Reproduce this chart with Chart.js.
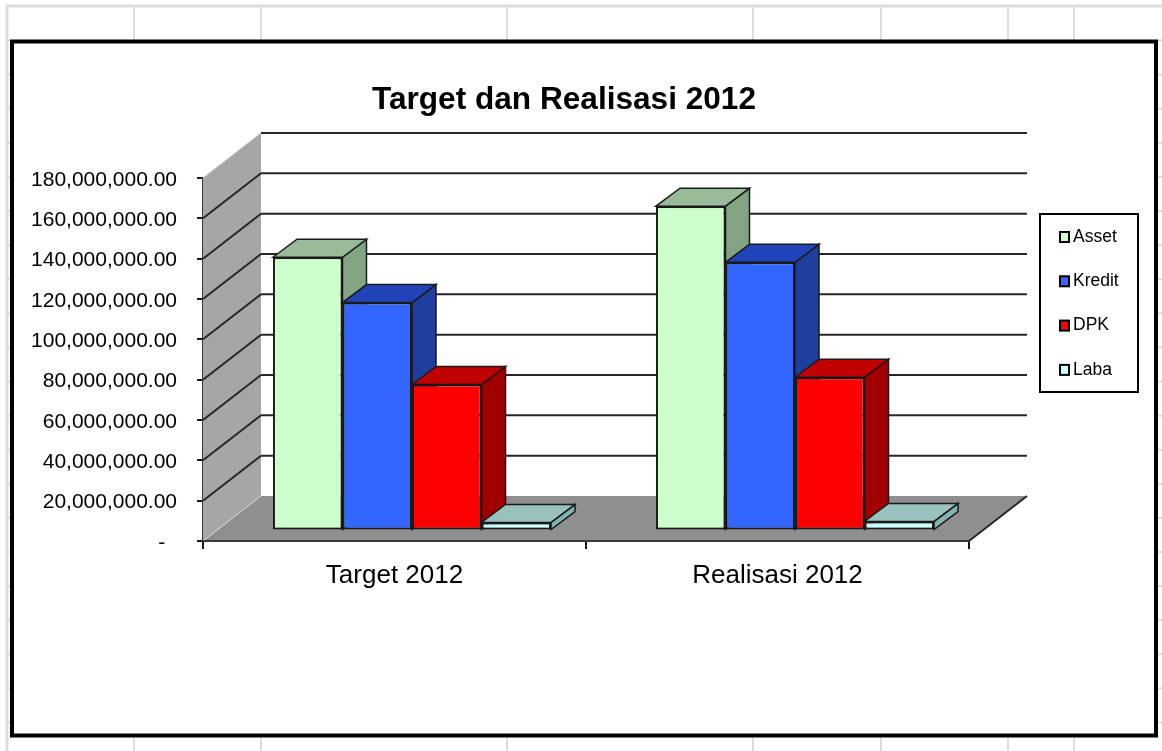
<!DOCTYPE html>
<html>
<head>
<meta charset="utf-8">
<title>Target dan Realisasi 2012</title>
<script src="https://cdn.jsdelivr.net/npm/chart.js@4"></script>
<style>
body { margin: 0; background: #fff; overflow: hidden; }
canvas { display: block; filter: blur(0.4px); }
</style>
</head>
<body>
<canvas id="chart" width="1162" height="751"></canvas>
<script>
const categories = ['Target 2012', 'Realisasi 2012'];
const seriesNames = ['Asset', 'Kredit', 'DPK', 'Laba'];
const asset = [135500000, 160800000];
const kredit = [113000000, 133000000];
const dpk = [72400000, 76000000];
const laba = [4000000, 4500000];
const seriesValues = [asset, kredit, dpk, laba];

const fronts = ['#ccffcc', '#3366ff', '#ff0000', '#ccffff'];
const tops = ['#99bb99', '#2244bb', '#c00000', '#99c2bf'];
const sides = ['#82a482', '#1f3f9f', '#a00000', '#82b4b4'];
const font = 'Liberation Sans, Arial, sans-serif';

// depth of the 3D box and of the bars inside it
const wallDx = 58, wallDy = -45;
const barShiftX = 17.5, barShiftY = -10.5;
const barDx = 24, barDy = -18;

function poly(ctx, pts, fill, stroke, lw) {
    ctx.beginPath();
    pts.forEach((p, i) => i ? ctx.lineTo(p[0], p[1]) : ctx.moveTo(p[0], p[1]));
    ctx.closePath();
    if (fill) {
        ctx.fillStyle = fill;
        ctx.fill();
    }
    if (stroke) {
        ctx.strokeStyle = stroke;
        ctx.lineWidth = lw;
        ctx.stroke();
    }
}

function line(ctx, x1, y1, x2, y2, color, lw) {
    ctx.beginPath();
    ctx.moveTo(x1, y1);
    ctx.lineTo(x2, y2);
    ctx.strokeStyle = color;
    ctx.lineWidth = lw;
    ctx.stroke();
}

const sheetPlugin = {
    id: 'sheet',
    afterLayout(chart) {
        // value labels sit a little lower than the library's middle baseline
        const y = chart.scales.y;
        const drawLabels = y.drawLabels.bind(y);
        y.drawLabels = area => {
            chart.ctx.save();
            chart.ctx.translate(0, 2);
            drawLabels(area);
            chart.ctx.restore();
        };
    },
    // spreadsheet cells behind the chart, frame, title and legend
    beforeDraw(chart) {
        const ctx = chart.ctx;
        const grey = '#dddddd';
        ctx.save();
        ctx.fillStyle = '#fff';
        ctx.fillRect(0, 0, 1162, 751);
        line(ctx, 6, 6, 1162, 6, grey, 3);
        line(ctx, 7, 6, 7, 751, grey, 3);
        [134, 261, 507, 753, 881, 1008, 1074].forEach(x => {
            line(ctx, x, 6, x, 42, grey, 2);
            line(ctx, x, 736, x, 751, grey, 2);
        });
        for (let y = 40.5; y < 745; y += 34.1) {
            line(ctx, 7, y, 12, y, grey, 2);
            line(ctx, 1156, y, 1162, y, grey, 2);
        }
        ctx.fillStyle = '#fff';
        ctx.fillRect(12, 41.5, 1144, 694);
        ctx.strokeStyle = '#000';
        ctx.lineWidth = 4;
        ctx.strokeRect(12, 41.5, 1144, 694);

        ctx.fillStyle = '#000';
        ctx.font = 'bold 31.6px ' + font;
        ctx.textAlign = 'center';
        ctx.textBaseline = 'middle';
        ctx.fillText('Target dan Realisasi 2012', 564, 100);

        ctx.strokeStyle = '#000';
        ctx.lineWidth = 2;
        ctx.strokeRect(1040, 214, 98, 178);
        ctx.font = '17.5px ' + font;
        ctx.textAlign = 'left';
        seriesNames.forEach((name, i) => {
            const y = 237 + i * 44.3;
            ctx.fillStyle = fronts[i];
            ctx.fillRect(1060, y - 5, 9, 10);
            ctx.strokeRect(1060, y - 5, 9, 10);
            ctx.fillStyle = '#000';
            ctx.fillText(name, 1073, y);
        });
        ctx.restore();
    },
    // walls and floor from the value scale, then the bars from left to right
    // so each bar covers the side face of the one before it
    beforeDatasetsDraw(chart) {
        const ctx = chart.ctx;
        const {left, right, top, bottom} = chart.chartArea;
        const y = chart.scales.y;
        ctx.save();
        poly(ctx, [[left, top], [left + wallDx, top + wallDy], [left + wallDx, bottom + wallDy], [left, bottom]], '#a6a6a6');
        poly(ctx, [[left, bottom], [right, bottom], [right + wallDx, bottom + wallDy], [left + wallDx, bottom + wallDy]], '#8f8f8f');
        line(ctx, left, bottom, left + wallDx, bottom + wallDy, '#d8d8d8', 1);
        y.ticks.forEach(t => {
            const py = y.getPixelForValue(t.value);
            if (t.value > 0) {
                if (t.value < y.max) {
                    line(ctx, left, py, left + wallDx, py + wallDy, '#262626', 2);
                }
                line(ctx, left + wallDx, py + wallDy, right + wallDx, py + wallDy, '#262626', 2);
            }
        });
        line(ctx, left, top, left + wallDx, top + wallDy, '#c8c8c8', 1);
        line(ctx, left, bottom, right, bottom, '#3a3a3a', 2);
        line(ctx, right, bottom, right + wallDx, bottom + wallDy, '#262626', 2);

        ctx.translate(barShiftX, barShiftY);
        chart.getSortedVisibleDatasetMetas().forEach(meta => {
            const i = meta.index;
            meta.data.forEach(bar => {
                const l = bar.x - bar.width / 2;
                const r = bar.x + bar.width / 2;
                const t = bar.y;
                const b = bar.base;
                poly(ctx, [[r, t], [r + barDx, t + barDy], [r + barDx, b + barDy], [r, b]], sides[i], '#1a1a1a', 1.5);
                poly(ctx, [[l, t], [l + barDx, t + barDy], [r + barDx, t + barDy], [r, t]], tops[i], '#1a1a1a', 1.5);
            });
            meta.controller.draw();
        });
        ctx.restore();
        return false;
    }
};

new Chart(document.getElementById('chart'), {
    type: 'bar',
    data: {
        labels: categories,
        datasets: seriesNames.map((name, i) => ({
            label: name,
            data: seriesValues[i],
            backgroundColor: fronts[i],
            borderColor: '#1a1a1a',
            borderWidth: 2,
            borderSkipped: false
        }))
    },
    options: {
        responsive: false,
        animation: false,
        layout: { padding: { left: 13, right: 193, top: 178, bottom: 150 } },
        plugins: {
            legend: { display: false },
            title: { display: false },
            tooltip: { enabled: false }
        },
        datasets: { bar: { categoryPercentage: 0.726, barPercentage: 1 } },
        scales: {
            x: {
                afterFit: s => { s.height = 60; },
                grid: { drawOnChartArea: false, tickLength: 8, color: '#1a1a1a', lineWidth: 2 },
                border: { color: '#3a3a3a', width: 2 },
                ticks: {
                    color: '#000',
                    padding: 11,
                    maxRotation: 0,
                    font: { family: font, size: 26 }
                }
            },
            y: {
                min: 0,
                max: 180000000,
                afterFit: s => { s.width = 190; },
                grid: { drawOnChartArea: false, tickLength: 6, color: '#1a1a1a', lineWidth: 2 },
                border: { color: '#3a3a3a', width: 2 },
                ticks: {
                    stepSize: 20000000,
                    color: '#000',
                    padding: 20,
                    font: { family: font, size: 21 },
                    callback: v => v === 0 ? '-  ' : v.toLocaleString('en-US', { minimumFractionDigits: 2 })
                }
            }
        }
    },
    plugins: [sheetPlugin]
});
</script>
</body>
</html>
